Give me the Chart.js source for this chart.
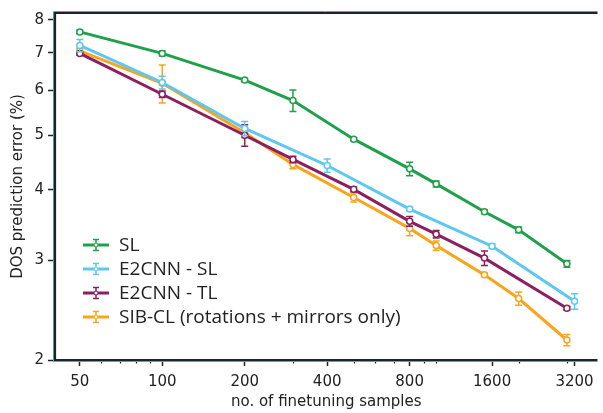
<!DOCTYPE html>
<html>
<head>
<meta charset="utf-8">
<script src="https://cdn.jsdelivr.net/npm/chart.js@4.4.1/dist/chart.umd.min.js"></script>
<style>
  html, body { margin: 0; padding: 0; background: #fff; overflow: hidden; }
</style>
</head>
<body>
<canvas id="dosChart" width="603" height="413"></canvas>
<script>
// finetuning sample counts per series
var slX = [50, 100, 200, 300, 500, 800, 1000, 1500, 2000, 3000];
var e2slX = [50, 100, 200, 400, 800, 1600, 3200];
var e2tlX = [50, 100, 200, 300, 500, 800, 1000, 1500, 3000];
var sibX = [50, 100, 200, 300, 500, 800, 1000, 1500, 2000, 3000];

// DOS prediction error (%) and error bar half widths
var slY = [7.62, 6.98, 6.26, 5.76, 4.92, 4.36, 4.10, 3.66, 3.40, 2.96];
var slErr = [0.06, 0.07, 0.04, 0.25, 0.03, 0.12, 0.05, 0.03, 0.04, 0.04];
var e2slY = [7.21, 6.20, 5.14, 4.42, 3.70, 3.18, 2.54];
var e2slErr = [0.18, 0.16, 0.15, 0.12, 0.03, 0.03, 0.08];
var e2tlY = [6.98, 5.91, 5.00, 4.53, 4.01, 3.52, 3.34, 3.03, 2.47];
var e2tlErr = [0.05, 0.08, 0.22, 0.06, 0.04, 0.07, 0.05, 0.09, 0.02];
var sibY = [7.05, 6.18, 5.05, 4.44, 3.88, 3.42, 3.19, 2.83, 2.57, 2.17];
var sibErr = [0.08, 0.48, 0.10, 0.08, 0.07, 0.10, 0.06, 0.02, 0.07, 0.05];

var labels = ['SL', 'E2CNN - SL', 'E2CNN - TL', 'SIB-CL (rotations + mirrors only)'];
var colors = ['#1fa04a', '#5cc8f0', '#8b1f5f', '#f8a51c'];

var xTicks = [50, 100, 200, 400, 800, 1600, 3200];
var xMinorTicks = [60, 70, 80, 90, 300, 500, 600, 700, 900, 1000, 2000, 3000];
var yTicks = [2, 3, 4, 5, 6, 7, 8];

var errors = [slErr, e2slErr, e2tlErr, sibErr];

function makeSeries(xs, ys) {
    let pts = [];
    for (let i = 0; i < xs.length; i++) {
        pts.push({x: xs[i], y: ys[i]});
    }
    return pts;
}

function makeDataset(i, xs, ys) {
    return {
        label: labels[i],
        data: makeSeries(xs, ys),
        borderColor: colors[i],
        backgroundColor: '#ffffff',
        borderWidth: 3,
        pointRadius: 3,
        pointBorderWidth: 1.5,
        pointBackgroundColor: '#ffffff',
        pointBorderColor: colors[i],
        tension: 0
    };
}

var textColor = '#222222';
var tickFont = {family: 'DejaVu Sans', size: 15};

// error bars, drawn just before each dataset's own line
var errorBarPlugin = {
    id: 'errorBars',
    beforeDatasetDraw(chart, args) {
        let ctx = chart.ctx;
        let i = args.index;
        let ds = chart.data.datasets[i];
        let xs = chart.scales.x, ys = chart.scales.y;
        ctx.save();
        ctx.strokeStyle = colors[i];
        ctx.lineWidth = 1.5;
        for (let k = 0; k < ds.data.length; k++) {
            let p = ds.data[k];
            let px = xs.getPixelForValue(p.x);
            let top = ys.getPixelForValue(p.y + errors[i][k]);
            let bot = ys.getPixelForValue(p.y - errors[i][k]);
            ctx.beginPath();
            ctx.moveTo(px, top); ctx.lineTo(px, bot);
            ctx.moveTo(px - 3.5, top); ctx.lineTo(px + 3.5, top);
            ctx.moveTo(px - 3.5, bot); ctx.lineTo(px + 3.5, bot);
            ctx.stroke();
        }
        ctx.restore();
    }
};

// frame, minor ticks and legend
var framePlugin = {
    id: 'frame',
    afterDraw(chart) {
        let ctx = chart.ctx;
        let a = chart.chartArea;
        let xs = chart.scales.x;
        ctx.save();
        // minor x ticks
        ctx.strokeStyle = textColor;
        ctx.lineWidth = 1.2;
        for (let v of xMinorTicks) {
            let px = Math.round(xs.getPixelForValue(v)) + 0.5;
            ctx.beginPath();
            ctx.moveTo(px, a.bottom);
            ctx.lineTo(px, a.bottom + 3.5);
            ctx.stroke();
        }
        // spines
        ctx.strokeStyle = '#5aa8a0';
        ctx.lineWidth = 1;
        ctx.beginPath();
        ctx.moveTo(a.right, a.top - 1.5);
        ctx.lineTo(a.left - 1.5, a.top - 1.5);
        ctx.lineTo(a.left - 1.5, a.bottom + 1.5);
        ctx.lineTo(a.right, a.bottom + 1.5);
        ctx.stroke();
        ctx.strokeStyle = '#1a2626';
        ctx.lineWidth = 2.2;
        ctx.beginPath();
        ctx.moveTo(a.right, a.top);
        ctx.lineTo(a.left, a.top);
        ctx.lineTo(a.left, a.bottom);
        ctx.lineTo(a.right, a.bottom);
        ctx.stroke();

        // legend
        ctx.font = '19px "Open Sans"';
        ctx.textBaseline = 'middle';
        for (let i = 0; i < labels.length; i++) {
            let y = a.bottom - 115 + 24 * i;
            let x0 = a.left + 28;
            ctx.strokeStyle = colors[i];
            ctx.lineWidth = 3;
            ctx.beginPath();
            ctx.moveTo(x0, y); ctx.lineTo(x0 + 26, y);
            ctx.stroke();
            ctx.lineWidth = 1.5;
            let cx = x0 + 13;
            ctx.beginPath();
            ctx.moveTo(cx, y - 5.5); ctx.lineTo(cx, y + 5.5);
            ctx.moveTo(cx - 3, y - 5.5); ctx.lineTo(cx + 3, y - 5.5);
            ctx.moveTo(cx - 3, y + 5.5); ctx.lineTo(cx + 3, y + 5.5);
            ctx.stroke();
            ctx.fillStyle = '#ffffff';
            ctx.beginPath();
            ctx.arc(cx, y, 2, 0, Math.PI * 2);
            ctx.fill();
            ctx.lineWidth = 1;
            ctx.stroke();
            ctx.fillStyle = textColor;
            ctx.fillText(labels[i], x0 + 36, y + 1);
        }
        ctx.restore();
    }
};

var ctx = document.getElementById('dosChart');
var dosChart = new Chart(ctx, {
    type: 'line',
    data: {
        datasets: [
            makeDataset(0, slX, slY),
            makeDataset(1, e2slX, e2slY),
            makeDataset(2, e2tlX, e2tlY),
            makeDataset(3, sibX, sibY)
        ]
    },
    plugins: [errorBarPlugin, framePlugin],
    options: {
        responsive: false,
        animation: false,
        devicePixelRatio: 1,
        layout: {padding: {top: 4, right: 0, left: 0, bottom: 0}},
        plugins: {
            legend: {display: false},
            tooltip: {enabled: false}
        },
        scales: {
            x: {
                type: 'logarithmic',
                min: 40.6,
                max: 3880,
                afterBuildTicks: function (scale) {
                    scale.ticks = xTicks.map(v => ({value: v}));
                },
                afterFit: function (scale) { scale.height = 53; },
                ticks: {
                    callback: v => String(v),
                    autoSkip: false,
                    maxRotation: 0,
                    font: tickFont,
                    color: textColor,
                    padding: 7
                },
                grid: {drawOnChartArea: false, tickLength: 6, tickColor: textColor, tickWidth: 1.5},
                border: {display: false},
                title: {
                    display: true,
                    text: 'no. of finetuning samples',
                    font: tickFont,
                    color: textColor,
                    padding: {top: 0, bottom: 2}
                }
            },
            y: {
                type: 'logarithmic',
                min: 2,
                max: 8.23,
                afterBuildTicks: function (scale) {
                    scale.ticks = yTicks.map(v => ({value: v}));
                },
                afterFit: function (scale) { scale.width = 55; },
                ticks: {
                    callback: v => String(v),
                    autoSkip: false,
                    font: tickFont,
                    color: textColor,
                    padding: 4
                },
                grid: {drawOnChartArea: false, tickLength: 7, tickColor: textColor, tickWidth: 1.5},
                border: {display: false},
                title: {
                    display: true,
                    text: 'DOS prediction error (%)',
                    font: tickFont,
                    color: textColor,
                    padding: {top: 9, bottom: 0}
                }
            }
        }
    }
});
</script>
</body>
</html>
